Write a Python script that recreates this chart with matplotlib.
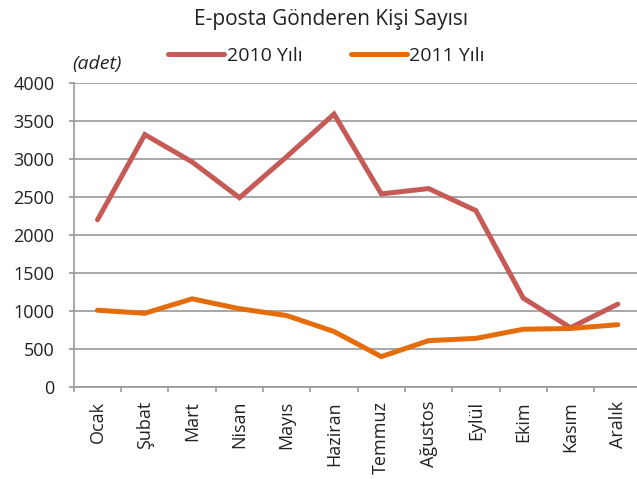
import numpy as np
import matplotlib.pyplot as plt

plt.rcParams['font.family'] = ['Open Sans', 'DejaVu Sans']

# aylar ve e-posta gonderen kisi sayilari
aylar = ["Ocak", "Şubat", "Mart", "Nisan", "Mayıs", "Haziran",
         "Temmuz", "Ağustos", "Eylül", "Ekim", "Kasım", "Aralık"]
y2010 = [2200, 3320, 2960, 2490, 3030, 3590, 2540, 2610, 2320, 1170, 780, 1090]
y2011 = [1010, 970, 1160, 1030, 940, 730, 400, 610, 640, 760, 770, 820]
yticks = [0, 500, 1000, 1500, 2000, 2500, 3000, 3500, 4000]

fig = plt.figure(figsize=(6.37, 4.79), dpi=100)
ax = fig.add_axes([0.116, 0.192, 0.891, 0.635])

x = np.arange(len(aylar))
ax.plot(x, y2010, color='#C55A57', lw=3.6, solid_capstyle='round',
        solid_joinstyle='miter', label='2010 Yılı', zorder=3)
ax.plot(x, y2011, color='#E46C0A', lw=3.6, solid_capstyle='round',
        solid_joinstyle='miter', label='2011 Yılı', zorder=3)

ax.set_xlim(-0.5, len(aylar) - 0.5)
ax.set_ylim(0, 4000)
ax.set_yticks(yticks)
ax.set_xticks(x)
ax.set_xticklabels(aylar, rotation=90, fontsize=13, color='#222222')
ax.set_xticks(np.arange(-0.5, len(aylar)), minor=True)
ax.tick_params(axis='x', which='major', length=0, pad=10)
ax.tick_params(axis='x', which='minor', length=3.6, color='#999999', width=1.2)
ax.tick_params(axis='y', length=3.6, color='#999999', width=1.2,
               labelsize=13, labelcolor='#222222', pad=10.5)

ax.grid(axis='y', color='#A0A0A0', lw=1.3)
ax.set_axisbelow(True)
for s in ['top', 'right']:
    ax.spines[s].set_visible(False)
for s in ['left', 'bottom']:
    ax.spines[s].set_color('#999999')
    ax.spines[s].set_linewidth(1.2)

fig.text(0.52, 0.960, "E-posta Gönderen Kişi Sayısı", ha='center', va='center',
         fontsize=15, color='#222222')
fig.text(0.114, 0.866, "(adet)", ha='left', va='center', fontsize=14,
         style='italic', color='#222222')

fig.legend(loc='center', bbox_to_anchor=(0.513, 0.884), ncol=2, frameon=False,
           fontsize=14, handlelength=2.85, handletextpad=0.15, columnspacing=2.5,
           labelcolor='#222222')

fig.savefig('out.png', dpi=100)
